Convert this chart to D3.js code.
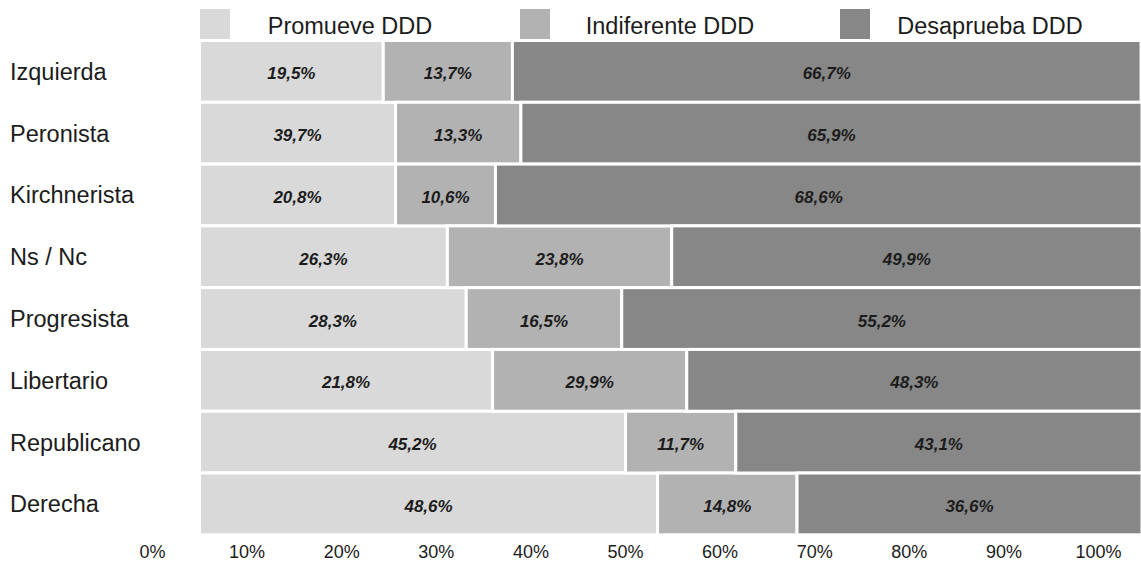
<!DOCTYPE html>
<html>
<head>
<meta charset="utf-8">
<script src="https://cdn.jsdelivr.net/npm/d3@7"></script>
<style>
  body { margin: 0; background: #fff; }
</style>
</head>
<body>
<div id="grafico"></div>
<script>
///////////////////////////////////////////////////////////////////////////
// Datos
///////////////////////////////////////////////////////////////////////////
const categorias = ["Izquierda", "Peronista", "Kirchnerista", "Ns / Nc", "Progresista", "Libertario", "Republicano", "Derecha"];

// ancho de las barras
const promueve    = [19.5, 20.8, 20.8, 26.3, 28.3, 31.1, 45.2, 48.6];
const indiferente = [13.7, 13.3, 10.6, 23.8, 16.5, 20.6, 11.7, 14.8];
const desaprueba  = [66.7, 65.9, 68.6, 49.9, 55.2, 48.3, 43.1, 36.6];

// etiquetas tal como aparecen impresas
const etqPromueve    = [19.5, 39.7, 20.8, 26.3, 28.3, 21.8, 45.2, 48.6];
const etqIndiferente = [13.7, 13.3, 10.6, 23.8, 16.5, 29.9, 11.7, 14.8];
const etqDesaprueba  = [66.7, 65.9, 68.6, 49.9, 55.2, 48.3, 43.1, 36.6];

const series = ["Promueve DDD", "Indiferente DDD", "Desaprueba DDD"];
const colores = ["#d9d9d9", "#b2b2b2", "#878787"];
const ticksEje = [0, 10, 20, 30, 40, 50, 60, 70, 80, 90, 100];

///////////////////////////////////////////////////////////////////////////
// SVG
///////////////////////////////////////////////////////////////////////////
const width = 1141;
const height = 564;
const fuente = "'Liberation Sans', Arial, Helvetica, sans-serif";

const svg = d3.select("#grafico")
  .append("svg")
  .attr("width", width)
  .attr("height", height)
  .style("display", "block");

const x = d3.scaleLinear().domain([0, 100]).range([199.5, 1142]);
const xEje = d3.scaleLinear().domain([0, 100]).range([152, 1098]);
const y = d3.scaleBand().domain(categorias).range([40.5, 534.8]).padding(0);

// tabla para d3.stack
const tabla = categorias.map((c, i) => ({
  cat: c,
  "Promueve DDD": promueve[i],
  "Indiferente DDD": indiferente[i],
  "Desaprueba DDD": desaprueba[i]
}));
const etiquetas = {
  "Promueve DDD": etqPromueve,
  "Indiferente DDD": etqIndiferente,
  "Desaprueba DDD": etqDesaprueba
};

const apilado = d3.stack().keys(series)(tabla);
const formato = v => d3.format(".1f")(v).replace(".", ",") + "%";

///////////////////////////////////////////////////////////////////////////
// Barras
///////////////////////////////////////////////////////////////////////////
const grupos = svg.selectAll(".serie")
  .data(apilado)
  .join("g")
  .attr("class", "serie")
  .attr("fill", (d, i) => colores[i]);

grupos.selectAll("rect")
  .data(d => d)
  .join("rect")
  .attr("x", d => x(d[0]))
  .attr("y", d => y(d.data.cat))
  .attr("width", d => x(d[1]) - x(d[0]))
  .attr("height", y.bandwidth())
  .attr("stroke", "#fff")
  .attr("stroke-width", 3);

grupos.selectAll("text")
  .data(d => d.map((p, i) => ({ p: p, v: etiquetas[d.key][i] })))
  .join("text")
  .attr("x", d => (x(d.p[0]) + x(d.p[1])) / 2)
  .attr("y", d => y(d.p.data.cat) + y.bandwidth() / 2 + 8)
  .attr("text-anchor", "middle")
  .attr("font-family", fuente)
  .attr("font-size", "17px")
  .attr("font-weight", "bold")
  .attr("font-style", "italic")
  .attr("fill", "#1c1c1c")
  .text(d => formato(d.v));

///////////////////////////////////////////////////////////////////////////
// Categorías
///////////////////////////////////////////////////////////////////////////
svg.selectAll(".cat")
  .data(categorias)
  .join("text")
  .attr("class", "cat")
  .attr("x", 10)
  .attr("y", d => y(d) + y.bandwidth() / 2 + 8.5)
  .attr("font-family", fuente)
  .attr("font-size", "23.5px")
  .attr("fill", "#1c1c1c")
  .text(d => d);

///////////////////////////////////////////////////////////////////////////
// Eje inferior
///////////////////////////////////////////////////////////////////////////
const eje = svg.append("g")
  .attr("transform", "translate(0,558)")
  .call(d3.axisBottom(xEje).tickValues(ticksEje).tickFormat(d => d + "%").tickSize(0));

eje.select(".domain").remove();
eje.selectAll("text")
  .attr("y", 0)
  .attr("dy", 0)
  .attr("font-family", fuente)
  .attr("font-size", "18px")
  .attr("fill", "#1c1c1c");

///////////////////////////////////////////////////////////////////////////
// Leyenda
///////////////////////////////////////////////////////////////////////////
const leyenda = svg.selectAll(".leyenda")
  .data(series)
  .join("g")
  .attr("class", "leyenda")
  .attr("transform", (d, i) => `translate(${200 + i * 320},9)`);

leyenda.append("rect")
  .attr("width", 30)
  .attr("height", 30)
  .attr("fill", (d, i) => colores[i]);

leyenda.append("text")
  .attr("x", 150)
  .attr("y", 24.5)
  .attr("text-anchor", "middle")
  .attr("font-family", fuente)
  .attr("font-size", "23.5px")
  .attr("fill", "#1c1c1c")
  .text(d => d);
</script>
</body>
</html>
